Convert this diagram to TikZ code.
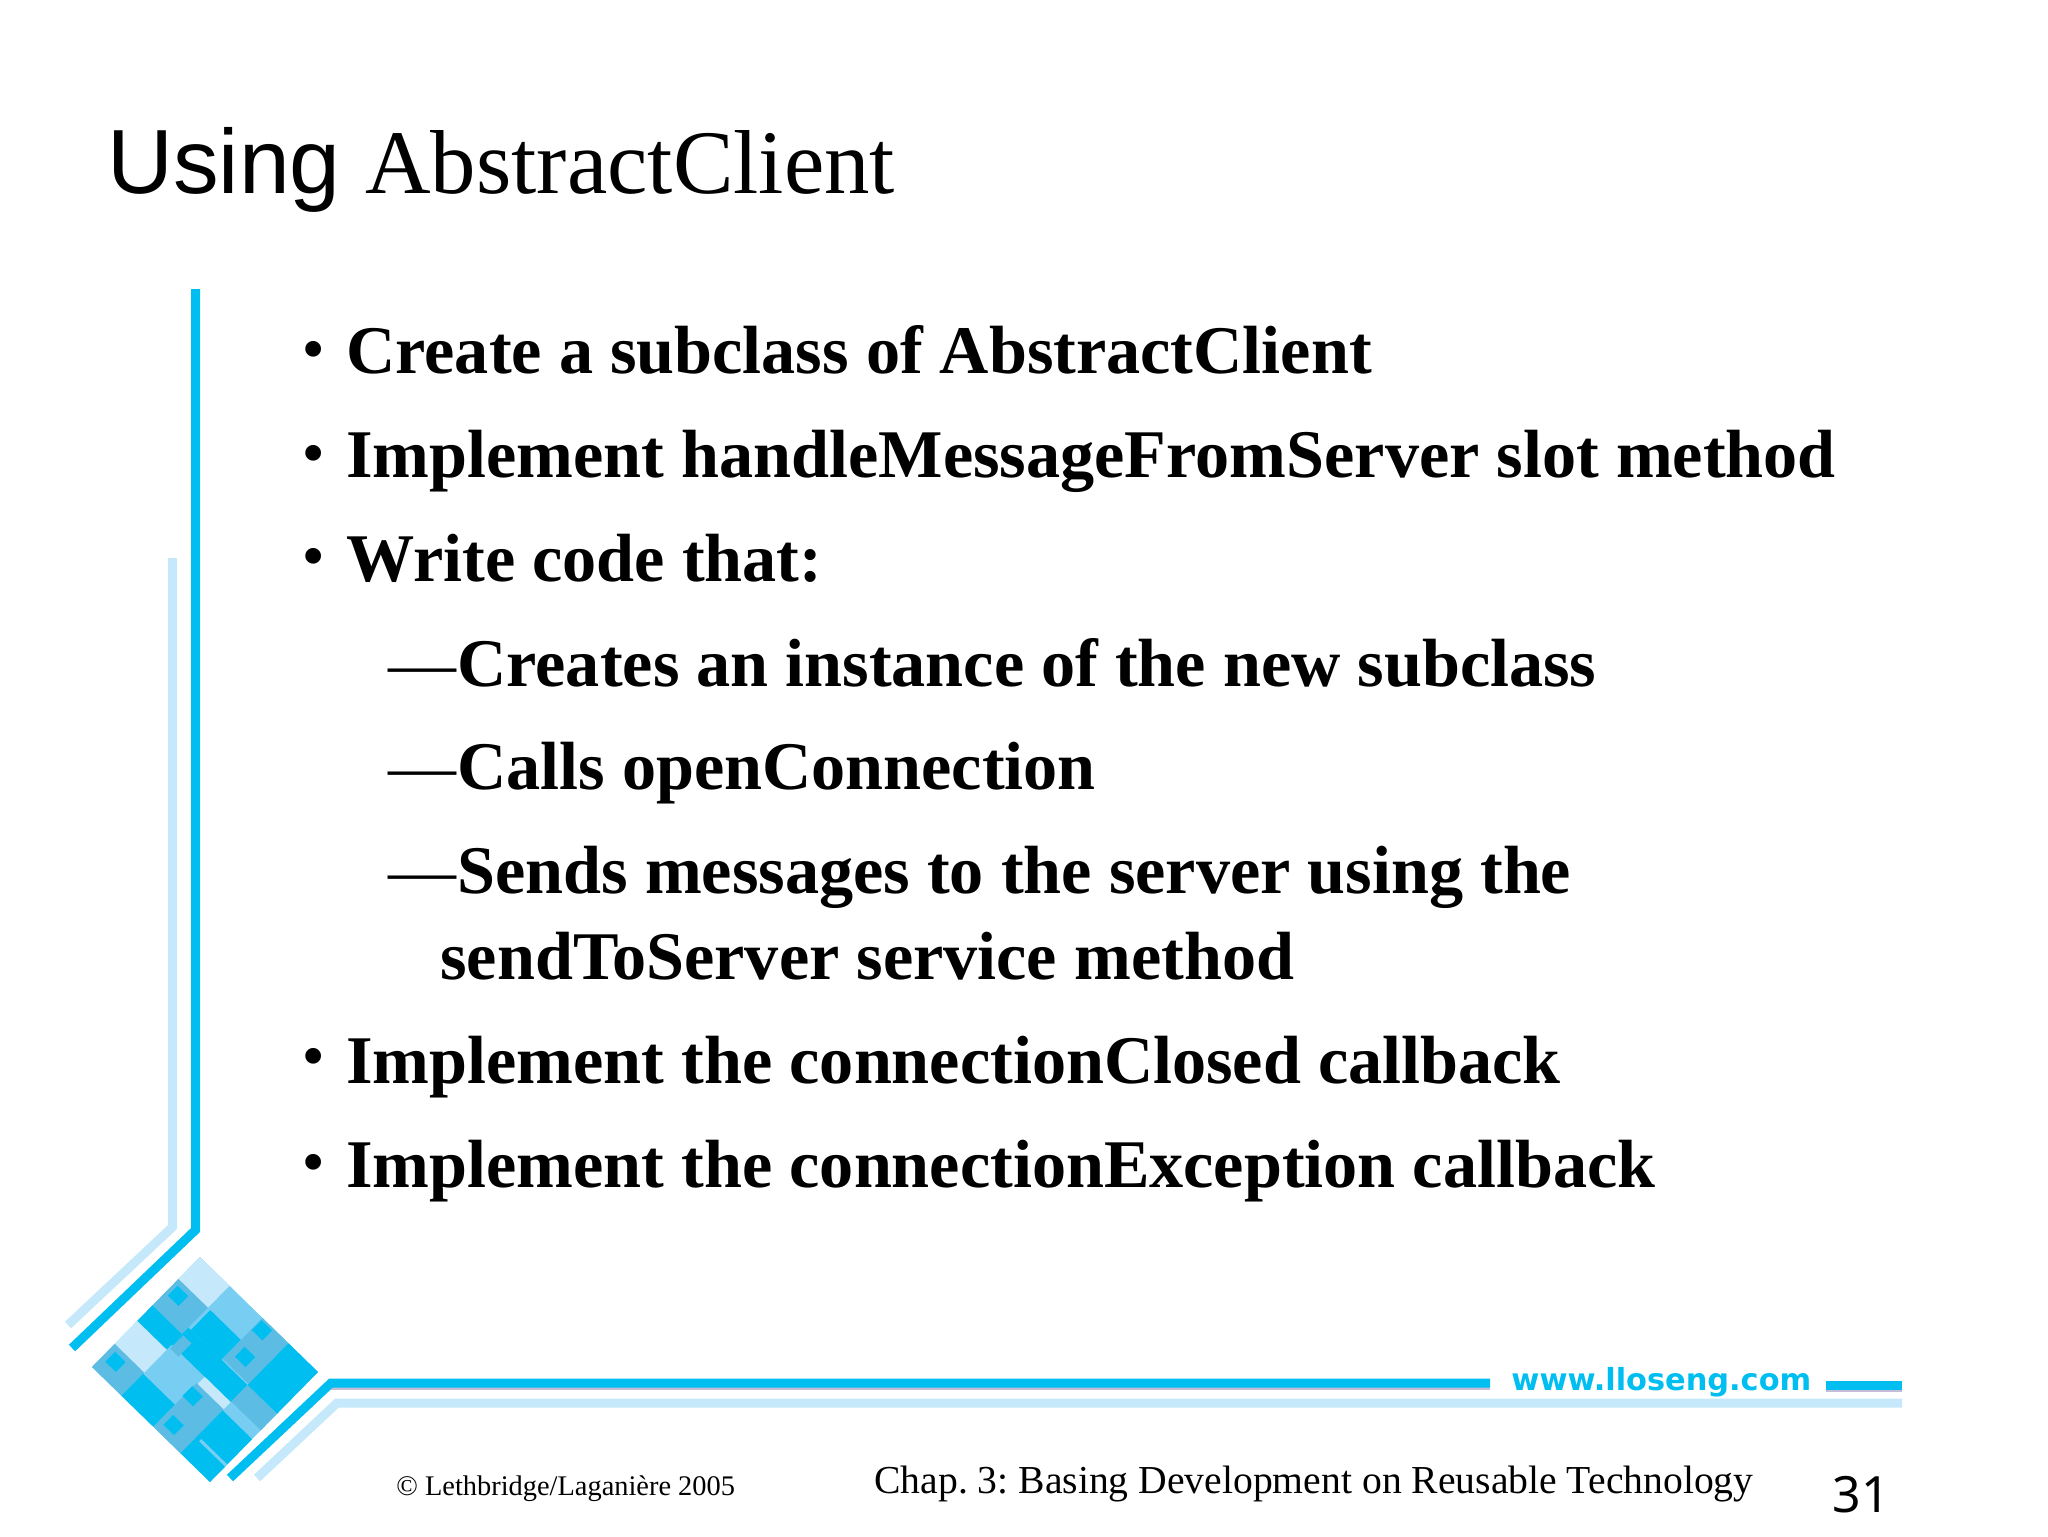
\documentclass[tikz,border=0pt]{standalone}
\usepackage{fontspec}
\setmainfont{Liberation Serif}
\setsansfont{Liberation Sans}
\newfontfamily\numfont{Noto Sans}
\newfontfamily\webfont{DejaVu Sans}
\definecolor{llblue}{HTML}{00BFF0}
\definecolor{llmid}{HTML}{78CEF2}
\definecolor{llpale}{HTML}{C5E8FA}
\definecolor{llgrey}{HTML}{5DBCE4}
\definecolor{llshade}{HTML}{C4BCD8}
\newcommand{\tile}[5]{\fill [#1] (#2, #3) -- (#4, #3) -- (#4, #5) -- (#2, #5) -- cycle;}
\tikzset{
  txt/.style={inner sep=0pt, anchor=base west},
  body/.style={txt, font=\fontsize{34.1}{34.1}\selectfont\bfseries},
  bulletmark/.style={txt, font=\fontsize{29}{29}\selectfont\bfseries},
  dashmark/.style={txt, font=\fontsize{34}{34}\selectfont},
  strong/.style={draw=llblue, line width=4.5pt, line cap=butt, line join=miter},
  pale/.style={draw=llpale, line width=4.5pt, line cap=butt, line join=miter},
}
\begin{document}
\frenchspacing
\begin{tikzpicture}[x=0.5pt, y=-0.5pt]
  \useasboundingbox (0, 0) rectangle (2048, 1536);

  \node [txt, font=\fontsize{45.6}{45.6}\selectfont\sffamily] (usingword) at (107, 193) {Using};
  \node [txt, font=\fontsize{45.4}{45.4}\selectfont] (titleword) at (365, 193) {AbstractClient};

  \foreach \y/\nm in {368/first, 472/second, 575/third, 1075/fourth, 1181/fifth}
    \node [bulletmark] (bullet\nm) at (303, \y) {•};
  \node [body] (create) at (346, 373.5) {Create a subclass of AbstractClient};
  \node [body] (implement) at (346, 477.5) {Implement handleMessageFromServer slot method};
  \node [body] (write) at (346, 581.5) {Write code that:};
  \foreach \y/\nm in {686/creates, 789/calls, 893/sends}
    \node [dashmark] (dash\nm) at (388, \y) {—};
  \node [body] (creates) at (457, 686) {Creates an instance of the new subclass};
  \node [body] (calls) at (457, 789) {Calls openConnection};
  \node [body] (sends) at (457, 893) {Sends messages to the server using the};
  \node [body] (sendto) at (440, 979.5) {sendToServer service method};
  \node [body] (closed) at (346, 1083.5) {Implement the connectionClosed callback};
  \node [body] (exception) at (346, 1187.5) {Implement the connectionException callback};

  \draw [pale] (172.5, 558) -- (172.5, 1227) -- (68, 1325);
  \draw [strong] (195.5, 289) -- (195.5, 1230) -- (72, 1348);
  \draw [pale] (257, 1478) -- (337, 1403) -- (1902, 1403);
  \draw [llshade, line width=1.5pt] (331, 1388) -- (1490, 1388);
  \draw [llshade, line width=1.5pt] (1826, 1390) -- (1902, 1390);
  \draw [strong] (230, 1478) -- (331, 1383) -- (1490, 1383);
  \draw [strong] (1826, 1385) -- (1902, 1385);

  \begin{scope}[shift={(200, 1257)}, x={(59pt, -57.5pt)}, y={(-54pt, -55pt)}]
    \tile{llmid}{0}{0}{1}{1}
    \tile{llpale}{0}{0}{.25}{.2}
    \tile{llpale}{0}{.58}{.25}{.79}
    \tile{llgrey}{0}{.2}{.25}{.44}
    \tile{llgrey}{0}{.79}{.25}{1}
    \tile{llblue}{0}{.44}{.25}{.58}
    \tile{llblue}{.27}{.2}{.53}{.38}
    \tile{llblue}{.25}{.38}{.75}{.535}
    \tile{llgrey}{.53}{0}{.75}{.37}
    \tile{llgrey}{.26}{.44}{.33}{.56}
    \tile{llblue}{.75}{0}{1}{.38}
    \tile{llgrey}{.75}{.38}{1}{.53}
    \tile{llblue}{.25}{.8}{.52}{1}
    \tile{llgrey}{.52}{.6}{.75}{1}
    \tile{llpale}{.53}{.535}{.75}{.6}
    \tile{llblue}{.75}{.61}{1}{1}
    \tile{llmid}{.78}{.84}{1}{.86}
    \foreach \u/\v in {.07/.28, .08/.87, .58/.06, .62/.26, .56/.68, .6/.9}
      \fill [llblue] (\u - .045, \v - .045) -- (\u + .045, \v - .045) -- (\u + .045, \v + .045) -- (\u - .045, \v + .045) -- cycle;
  \end{scope}

  \node [txt, text=llblue, font=\fontsize{15.2}{15.2}\selectfont\webfont\bfseries] (website) at (1511, 1390) {www.lloseng.com};
  \node [txt, font=\fontsize{14.2}{14.2}\selectfont] (copyright) at (396, 1495) {© Lethbridge/Laganière 2005};
  \node [txt, font=\fontsize{19.82}{19.82}\selectfont] (chapter) at (874, 1493) {Chap. 3: Basing Development on Reusable Technology};
  \node [txt, font=\fontsize{25}{25}\selectfont\numfont] (pagenum) at (1832, 1512) {31};
\end{tikzpicture}
\end{document}
